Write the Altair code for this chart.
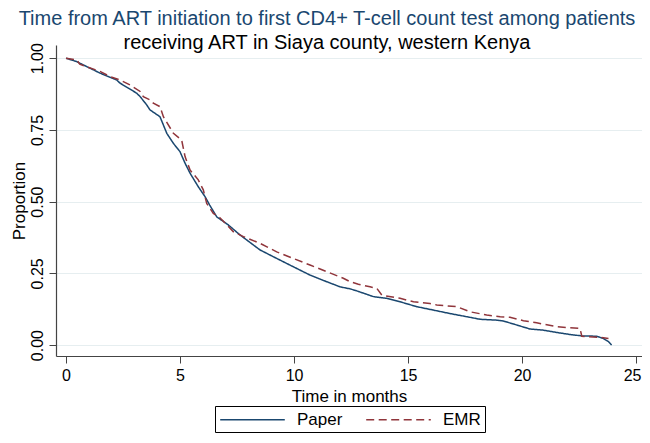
import altair as alt
import pandas as pd

# Kaplan-Meier style curves
paper_t = [0, 0.47, 0.9, 1.49, 2.22, 2.37, 3.1, 3.25, 3.54, 3.68, 4.12, 4.42, 4.71, 5.0, 5.22,
           5.44, 5.8, 6.1, 6.3, 6.61, 7.1, 7.63, 8.5, 9.24, 9.97, 10.7, 11.43, 12.02, 12.46,
           12.75, 13.48, 14.06, 14.65, 15.38, 16.11, 16.84, 17.57, 18.16, 18.89, 19.18, 19.77,
           20.35, 20.94, 21.52, 22.1, 22.62, 23.27, 23.57, 23.79, 23.93]
paper_p = [1.0, 0.988, 0.971, 0.948, 0.924, 0.913, 0.878, 0.866, 0.837, 0.82, 0.796, 0.738,
           0.703, 0.674, 0.634, 0.599, 0.552, 0.517, 0.488, 0.447, 0.42, 0.384, 0.332, 0.302,
           0.273, 0.244, 0.221, 0.203, 0.196, 0.189, 0.169, 0.163, 0.151, 0.134, 0.122, 0.110,
           0.099, 0.090, 0.087, 0.084, 0.070, 0.056, 0.052, 0.044, 0.037, 0.032, 0.031, 0.023,
           0.012, 0.0]

emr_t = [0, 0.47, 0.6, 1.49, 1.93, 2.37, 2.8, 3.25, 3.39, 3.68, 3.83, 4.12, 4.27, 4.71, 5.07,
         5.22, 5.44, 5.8, 6.02, 6.17, 6.46, 6.75, 7.34, 7.78, 8.5, 9.24, 9.97, 10.7, 11.43,
         12.16, 12.46, 12.82, 13.33, 13.63, 13.85, 14.65, 15.24, 15.96, 16.26, 17.13, 17.72,
         18.45, 19.04, 19.47, 20.06, 20.64, 21.0, 21.52, 22.54, 22.62, 23.42, 23.79]
emr_p = [1.0, 0.994, 0.979, 0.954, 0.936, 0.924, 0.907, 0.884, 0.866, 0.855, 0.843, 0.831,
         0.796, 0.738, 0.715, 0.657, 0.61, 0.576, 0.541, 0.494, 0.459, 0.444, 0.395, 0.378,
         0.355, 0.325, 0.302, 0.279, 0.256, 0.233, 0.221, 0.212, 0.203, 0.198, 0.174, 0.163,
         0.151, 0.145, 0.140, 0.134, 0.116, 0.105, 0.099, 0.097, 0.085, 0.078, 0.072, 0.064,
         0.058, 0.031, 0.027, 0.023]

series = ["Paper", "EMR"]
colors = ["#1a476f", "#90353b"]
x_ticks = [0, 5, 10, 15, 20, 25]
y_ticks = [0, 0.25, 0.5, 0.75, 1.0]

rows = []
for i, (t, p) in enumerate(zip(paper_t, paper_p)):
    rows.append({"time": t, "prop": p, "source": "Paper", "ord": i})
for i, (t, p) in enumerate(zip(emr_t, emr_p)):
    rows.append({"time": t, "prop": p, "source": "EMR", "ord": i})
df = pd.DataFrame(rows)

FONT = "Liberation Sans"

chart = alt.Chart(df).mark_line(strokeWidth=1.5).encode(
    x=alt.X("time:Q",
            scale=alt.Scale(domain=[-0.44, 25.26], nice=False, zero=False),
            axis=alt.Axis(values=x_ticks, title="Time in months", grid=False,
                          labelFontSize=16, titleFontSize=17, tickSize=7,
                          labelPadding=4, titlePadding=5, format="d",
                          labelOffset={"condition": {"test": "datum.value == 25", "value": -4},
                                       "value": 0})),
    y=alt.Y("prop:Q",
            scale=alt.Scale(domain=[-0.038, 1.046], nice=False, zero=False),
            axis=alt.Axis(values=y_ticks, title="Proportion", format=".2f",
                          labelAngle=270, labelAlign="center", labelBaseline="bottom",
                          labelFontSize=16, titleFontSize=17, tickSize=7,
                          labelPadding=4, titlePadding=1, grid=True,
                          gridColor="#e6eef0", gridWidth=1.2)),
    color=alt.Color("source:N", scale=alt.Scale(domain=series, range=colors),
                    legend=alt.Legend(title=None)),
    strokeDash=alt.StrokeDash("source:N",
                              scale=alt.Scale(domain=series, range=[[1, 0], [8, 4.5]]),
                              legend=alt.Legend(title=None)),
    order=alt.Order("ord:Q"),
).properties(
    width=586,
    height=311,
    title=alt.TitleParams(
        text="Time from ART initiation to first CD4+ T-cell count test among patients",
        subtitle="receiving ART in Siaya county, western Kenya",
        fontSize=20, subtitleFontSize=20, color="#1a476f", subtitleColor="black",
        font=FONT, subtitleFont=FONT, fontWeight="normal", anchor="middle",
        dx=-22, offset=-10, subtitlePadding=4),
    padding={"left": 48, "top": 37, "right": 0, "bottom": 79},
    autosize=alt.AutoSizeParams(type="none"),
).configure(
    font=FONT,
    background="white",
).configure_view(
    stroke=None,
).configure_axis(
    domainColor="#444444",
    tickColor="#444444",
    labelColor="black",
    titleColor="black",
    labelFont=FONT,
    titleFont=FONT,
    titleFontWeight="normal",
    domainWidth=1.2,
).configure_legend(
    orient="none",
    legendX=159,
    legendY=361,
    direction="horizontal",
    strokeColor="black",
    padding=4,
    symbolType="M-3.8,0H3.8",
    symbolSize=289,
    symbolStrokeWidth=1.5,
    symbolOffset=24,
    labelFontSize=17,
    labelFont=FONT,
    labelColor="black",
    labelOffset=35,
    columnPadding=20,
    fillColor="white",
)

chart.save("out.html", embed_options={"renderer": "svg", "actions": False})
